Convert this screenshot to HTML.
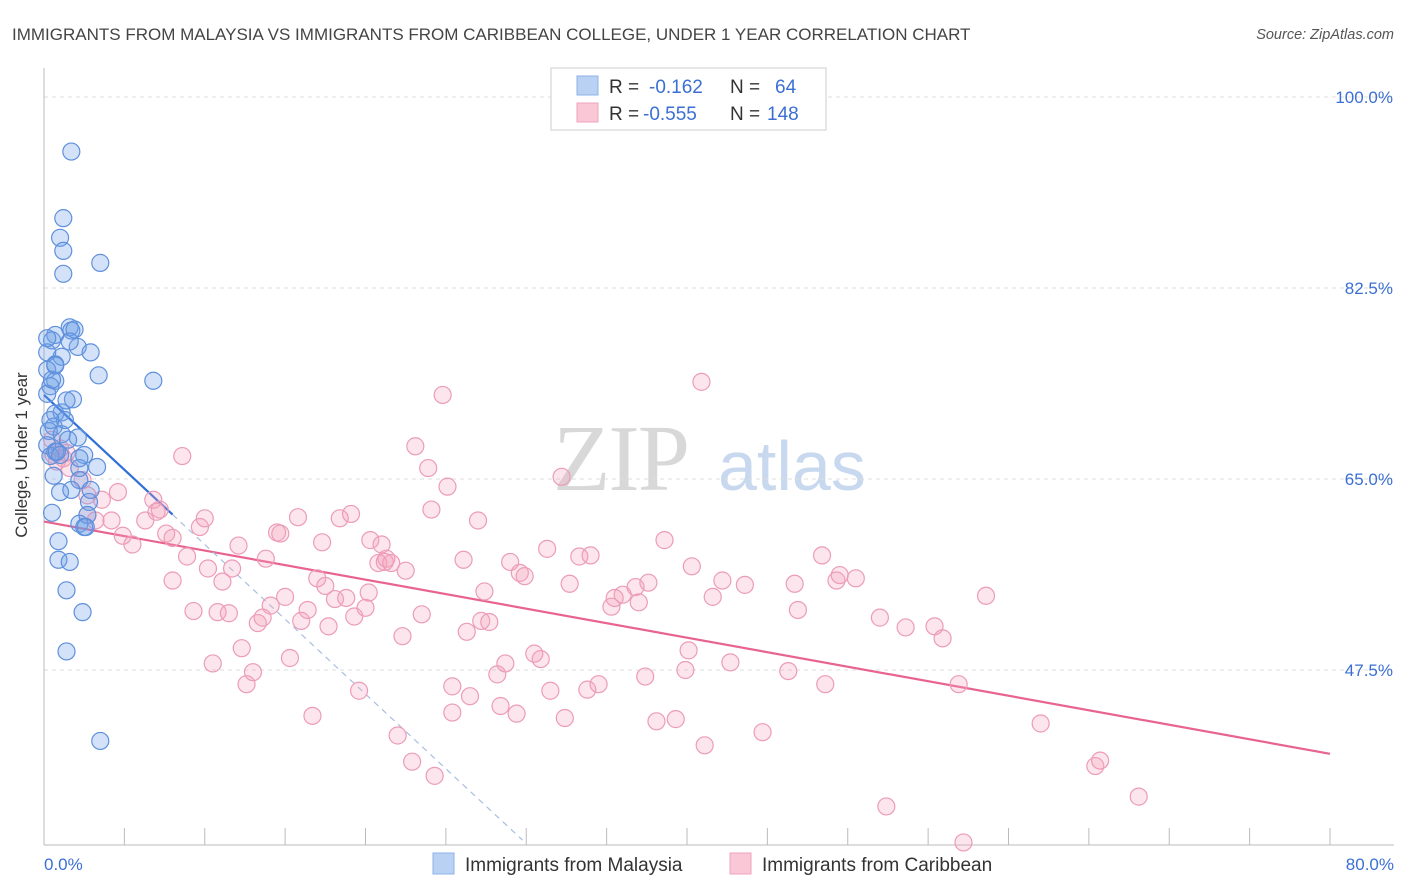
<!DOCTYPE html>
<html><head><meta charset="utf-8">
<style>
body{margin:0;background:#fff;font-family:"Liberation Sans",sans-serif;}
svg{display:block}
</style></head>
<body>
<svg id="chart" width="1406" height="892" viewBox="0 0 1406 892" xmlns="http://www.w3.org/2000/svg">
<text x="12" y="40" font-size="17" fill="#444">IMMIGRANTS FROM MALAYSIA VS IMMIGRANTS FROM CARIBBEAN COLLEGE, UNDER 1 YEAR CORRELATION CHART</text>
<text x="1394" y="39" font-size="14.5" fill="#555" font-style="italic" text-anchor="end">Source: ZipAtlas.com</text>
<g>
<text x="553" y="490" font-family="Liberation Serif,serif" font-size="94" fill="#d8d8d8" letter-spacing="-2">ZIP</text>
<text x="718" y="490" font-size="70" fill="#c7d8ef">atlas</text>
</g>
<g id="grid"></g>
<g id="axes"></g>
<g id="trend"></g>
<g id="pts"></g>
<text x="27" y="455" font-size="17" fill="#333" text-anchor="middle" transform="rotate(-90 27 455)">College, Under 1 year</text>
<g>
<rect x="551" y="68" width="275" height="62" fill="#fff" stroke="#ddd" stroke-width="1.5"/>
<rect x="577" y="76" width="21" height="19" fill="#b9d1f3" stroke="#8db2e8"/>
<rect x="577" y="103" width="21" height="19" fill="#f9c7d6" stroke="#f0a3bd"/>
<text x="609" y="93" font-size="19" fill="#333">R = </text><text x="649" y="93" font-size="19" fill="#3b6fd4">-0.162</text>
<text x="730" y="93" font-size="19" fill="#333">N = </text><text x="775" y="93" font-size="19" fill="#3b6fd4">64</text>
<text x="609" y="120" font-size="19" fill="#333">R = </text><text x="643" y="120" font-size="19" fill="#3b6fd4">-0.555</text>
<text x="730" y="120" font-size="19" fill="#333">N = </text><text x="767" y="120" font-size="19" fill="#3b6fd4">148</text>
</g>
<g>
<rect x="433" y="853" width="21" height="21" fill="#b9d1f3" stroke="#8db2e8"/>
<text x="465" y="871" font-size="19" fill="#333">Immigrants from Malaysia</text>
<rect x="730" y="853" width="21" height="21" fill="#f9c7d6" stroke="#f0a3bd"/>
<text x="762" y="871" font-size="19" fill="#333">Immigrants from Caribbean</text>
</g>
</svg>
<script>
const yTicks=[100,82.5,65,47.5];
const yTickLabels=["100.0%","82.5%","65.0%","47.5%"];
const xTickVals=[0,10,20,30,40,50,60,70,80];
const xEndLabels=["0.0%","80.0%"];
const blueX=[1.7,1.2,1.0,1.2,1.2,3.5,0.7,1.6,1.7,0.5,2.1,2.9,0.2,1.1,0.7,0.2,3.4,6.8,0.7,0.4,0.2,1.8,1.1,0.7,0.6,0.3,1.1,2.1,0.2,0.7,2.5,0.4,3.3,2.2,0.6,2.2,1.0,1.7,2.8,0.5,2.7,2.2,2.5,2.6,0.9,0.9,1.6,1.4,2.4,1.4,3.5,1.0,0.8,1.5,0.2,0.5,0.7,1.4,1.9,1.6,2.2,2.9,1.3,0.4];
const blueY=[95.0,88.9,87.1,85.9,83.8,84.8,78.2,78.9,78.6,77.7,77.1,76.6,76.6,76.2,75.5,75.0,74.5,74.0,74.0,73.5,72.8,72.3,71.1,71.0,69.8,69.4,69.1,68.8,68.1,67.5,67.2,67.1,66.1,66.0,65.3,64.9,63.8,64.0,62.9,61.9,61.7,60.9,60.6,60.6,59.3,57.6,57.4,54.8,52.8,49.2,41.0,67.2,67.5,68.6,77.9,74.1,75.4,72.2,78.7,77.6,66.9,64.0,70.4,70.4];
const pinkX=[0.5,0.6,0.8,1.2,1.4,1.6,1.0,2.4,2.7,3.6,2.7,3.2,4.2,4.6,4.9,5.5,6.3,6.8,7.0,7.2,7.6,8.0,8.6,8.9,8.0,9.3,9.7,10.0,10.2,10.5,10.8,11.1,11.5,11.7,12.1,12.3,12.6,13.0,13.3,13.6,13.8,14.1,14.5,14.7,15.0,15.3,15.8,16.0,16.4,16.7,17.0,17.3,17.5,17.7,18.1,18.4,18.8,19.1,19.3,19.6,20.0,20.2,20.3,20.8,21.0,21.2,21.3,21.6,22.0,22.3,22.5,22.9,23.1,23.5,23.9,24.1,24.3,24.8,25.1,25.4,25.4,26.1,26.3,26.5,27.0,27.4,27.2,27.7,28.2,28.4,28.7,29.0,29.4,29.6,29.9,30.5,30.9,31.3,31.5,32.2,32.4,32.7,33.3,33.8,34.0,34.5,35.3,35.5,36.0,36.8,37.0,37.4,37.6,38.1,38.6,39.3,39.9,40.1,40.3,40.9,41.1,41.6,42.2,42.7,43.6,44.7,46.3,46.7,46.9,48.6,48.4,49.3,49.5,50.5,52.0,52.4,53.6,55.4,55.9,56.9,57.2,58.6,62.0,65.4,65.7,68.1];
const pinkY=[68.6,67.2,66.6,66.9,67.4,66.0,67.8,64.9,63.5,63.1,61.7,61.2,61.2,63.8,59.8,59.0,61.2,63.1,62.0,62.2,60.0,59.6,67.1,57.9,55.7,52.9,60.6,61.4,56.8,48.1,52.8,55.6,52.7,56.8,58.9,49.5,46.2,47.3,51.8,52.3,57.7,53.4,60.1,60.0,54.2,48.6,61.5,52.0,53.0,43.3,55.9,59.2,55.2,51.5,54.0,61.4,54.1,61.8,52.4,45.6,53.2,54.6,59.4,57.3,59.0,57.4,57.7,57.3,41.5,50.6,56.6,39.1,68.0,52.6,66.0,62.2,37.8,72.7,64.3,46.0,43.6,57.6,51.0,45.1,61.2,54.7,52.0,51.9,47.1,44.2,48.1,57.4,43.5,56.4,56.1,49.0,48.5,58.6,45.6,65.2,43.1,55.4,57.9,45.7,58.0,46.2,53.3,54.1,54.4,55.1,53.7,46.9,55.5,42.8,59.4,43.0,47.5,49.3,57.0,73.9,40.6,54.2,55.7,48.2,55.3,41.8,47.4,55.4,53.0,46.2,58.0,55.7,56.2,55.9,52.3,35.0,51.4,51.5,50.4,46.2,31.7,54.3,42.6,38.7,39.2,35.9];
const blueFit=[72.7,-1.37];   // intercept, slope
const pinkFit=[61.1,-0.266];
const blueSolidEnd=[8.0];

const NS="http://www.w3.org/2000/svg";
const X0=44,X1=1330,Y0=845;
function sx(v){return X0+(X1-X0)*v/80;}
function sy(v){return 97+(100-v)*191/17.5;}
function mk(tag,attrs,parent){const e=document.createElementNS(NS,tag);for(const k in attrs)e.setAttribute(k,attrs[k]);parent.appendChild(e);return e;}
const grid=document.getElementById('grid'),axes=document.getElementById('axes'),trend=document.getElementById('trend'),pts=document.getElementById('pts');
yTicks.forEach((t,i)=>{
 const l=mk('line',{x1:X0,x2:1394,y1:sy(t),y2:sy(t),stroke:'#ddd','stroke-dasharray':'4,4'},grid);
 
 
 const tx=mk('text',{x:1393,y:sy(t)+6,'text-anchor':'end','font-size':'17',fill:'#3b6fd4'},axes);
 tx.textContent=yTickLabels[i];
 
 
});
const ya=mk('line',{x1:X0,x2:X0,y1:68,y2:Y0,stroke:'#bbb'},axes);


const xa=mk('line',{x1:X0,x2:1394,y1:Y0,y2:Y0,stroke:'#bbb'},axes);


xTickVals.forEach(v=>{
 const tk=mk('line',{x1:sx(v),x2:sx(v),y1:828,y2:Y0,stroke:'#bbb'},axes);
 
 
 const tk2=mk('line',{x1:sx(v+5),x2:sx(v+5),y1:828,y2:Y0,stroke:'#bbb'},axes);
 if(v+5>80)tk2.remove();
 
 
});
const xl0=mk('text',{x:44,y:870,'font-size':'17',fill:'#3b6fd4'},axes);xl0.textContent=xEndLabels[0];


const xl1=mk('text',{x:1394,y:870,'font-size':'17',fill:'#3b6fd4','text-anchor':'end'},axes);xl1.textContent=xEndLabels[1];


function dot(x,y,c,s,name){const e=mk('circle',{cx:sx(x),cy:sy(y),r:8.5,fill:c,stroke:s,'stroke-width':'1.2'},pts);
 
 }
pinkX.forEach((x,i)=>dot(x,pinkY[i],'rgba(244,160,188,0.28)','#ec9cb8','caribbean-point'));
blueX.forEach((x,i)=>dot(x,blueY[i],'rgba(110,160,232,0.3)','#5f90dc','malaysia-point'));
const pl=mk('line',{x1:sx(0),y1:sy(pinkFit[0]),x2:sx(80),y2:sy(pinkFit[0]+pinkFit[1]*80),stroke:'#e8648f','stroke-width':'2.2'},trend);


const e=blueSolidEnd[0];
const bl=mk('line',{x1:sx(0),y1:sy(blueFit[0]),x2:sx(e),y2:sy(blueFit[0]+blueFit[1]*e),stroke:'#2f6fd6','stroke-width':'2.2'},trend);


const yBottom=100-(Y0-5-97)*17.5/191;
const xEnd=(yBottom-blueFit[0])/blueFit[1];
const bd=mk('line',{x1:sx(e),y1:sy(blueFit[0]+blueFit[1]*e),x2:sx(xEnd),y2:sy(yBottom),stroke:'#a9bfe0','stroke-width':'1.2','stroke-dasharray':'6,5'},trend);


</script>
</body></html>
